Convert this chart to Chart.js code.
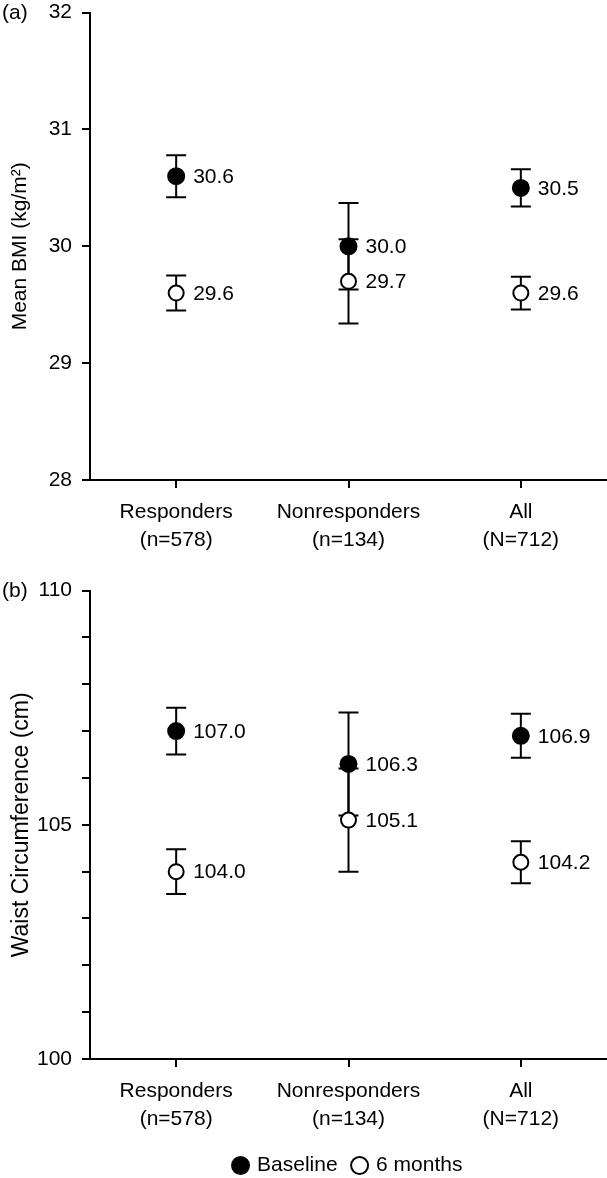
<!DOCTYPE html>
<html>
<head>
<meta charset="utf-8">
<script src="https://cdn.jsdelivr.net/npm/chart.js@4/dist/chart.umd.min.js"></script>
<style>
    html, body { margin: 0; padding: 0; background: #fff; overflow: hidden; }
    #wrap { position: relative; width: 607px; height: 1178px; overflow: hidden; }
    .panel { position: absolute; left: 0; width: 607px; }
    #panelA { top: -10px; height: 580px; }
    #panelB { top: 568px; height: 610px; }
</style>
</head>
<body>
<div id="wrap">
    <div class="panel" id="panelA"><canvas id="chartBmi"></canvas></div>
    <div class="panel" id="panelB"><canvas id="chartWaist"></canvas></div>
</div>
<script>
const grupos = [['Responders', '(n=578)'], ['Nonresponders', '(n=134)'], ['All', '(N=712)']];
const serieNombres = ['Baseline', '6 months'];

const bmiBaseline = [30.6, 30.0, 30.5];
const bmiBaselineErr = [0.18, 0.37, 0.16];
const bmiSeisMeses = [29.6, 29.7, 29.6];
const bmiSeisMesesErr = [0.15, 0.36, 0.14];
const bmiEje = { min: 28, max: 32, paso: 1 };
const bmiTicksConTexto = [28, 29, 30, 31, 32];

const cinturaBaseline = [107.0, 106.3, 106.9];
const cinturaBaselineErr = [0.5, 1.1, 0.47];
const cinturaSeisMeses = [104.0, 105.1, 104.2];
const cinturaSeisMesesErr = [0.48, 1.1, 0.45];
const cinturaEje = { min: 100, max: 110, paso: 1 };
const cinturaTicksConTexto = [100, 105, 110];

const FUENTE = '"Liberation Sans", Arial, Helvetica, sans-serif';
Chart.defaults.font.family = FUENTE;
Chart.defaults.color = '#000';

// barras de error, debajo de los marcadores
const errorBarPlugin = {
    id: 'errorBars',
    beforeDatasetsDraw(chart) {
        const ctx = chart.ctx;
        const y = chart.scales.y;
        chart.data.datasets.forEach((ds, i) => {
            const meta = chart.getDatasetMeta(i);
            meta.data.forEach((pt, j) => {
                const v = ds.data[j];
                const e = ds.errores[j];
                const yHi = y.getPixelForValue(v + e);
                const yLo = y.getPixelForValue(v - e);
                ctx.save();
                ctx.strokeStyle = '#000';
                ctx.lineWidth = 2;
                ctx.beginPath();
                ctx.moveTo(pt.x, yHi); ctx.lineTo(pt.x, yLo);
                ctx.moveTo(pt.x - 10, yHi); ctx.lineTo(pt.x + 10, yHi);
                ctx.moveTo(pt.x - 10, yLo); ctx.lineTo(pt.x + 10, yLo);
                ctx.stroke();
                ctx.restore();
            });
        });
    }
};

// etiquetas de valor a la derecha de cada punto
const etiquetasPlugin = {
    id: 'etiquetasValor',
    afterDatasetsDraw(chart) {
        const ctx = chart.ctx;
        ctx.save();
        ctx.font = '21px ' + FUENTE;
        ctx.fillStyle = '#000';
        ctx.textAlign = 'left';
        ctx.textBaseline = 'middle';
        chart.data.datasets.forEach((ds, i) => {
            chart.getDatasetMeta(i).data.forEach((pt, j) => {
                ctx.fillText(ds.data[j].toFixed(1), pt.x + 17, pt.y + 1);
            });
        });
        ctx.restore();
    }
};

const panelLetraPlugin = {
    id: 'panelLetra',
    afterDraw(chart, args, opts) {
        const ctx = chart.ctx;
        ctx.save();
        ctx.font = '21px ' + FUENTE;
        ctx.fillStyle = '#000';
        ctx.textAlign = 'left';
        ctx.textBaseline = 'middle';
        ctx.fillText(opts.texto, 2, chart.chartArea.top + 1);
        ctx.restore();
    }
};

function crearPanel(canvasId, cfg) {
    const ctx = document.getElementById(canvasId).getContext('2d');
    return new Chart(ctx, {
        type: 'line',
        data: {
            labels: grupos,
            datasets: [
                {
                    label: serieNombres[0],
                    data: cfg.baseline,
                    errores: cfg.baselineErr,
                    showLine: false,
                    pointStyle: 'circle',
                    pointRadius: 8,
                    pointBorderWidth: 2,
                    pointBackgroundColor: '#000',
                    pointBorderColor: '#000',
                    backgroundColor: '#000',
                    borderColor: '#000',
                    borderWidth: 2
                },
                {
                    label: serieNombres[1],
                    data: cfg.seisMeses,
                    errores: cfg.seisMesesErr,
                    showLine: false,
                    pointStyle: 'circle',
                    pointRadius: 7.5,
                    pointBorderWidth: 2,
                    pointBackgroundColor: '#fff',
                    pointBorderColor: '#000',
                    backgroundColor: '#fff',
                    borderColor: '#000',
                    borderWidth: 2
                }
            ]
        },
        options: {
            responsive: true,
            maintainAspectRatio: false,
            animation: false,
            events: [],
            layout: { autoPadding: false, padding: cfg.padding },
            plugins: {
                legend: {
                    display: cfg.leyenda,
                    position: 'bottom',
                    fullSize: false,
                    labels: {
                        usePointStyle: true,
                        boxWidth: 12,
                        boxHeight: 12,
                        padding: 16,
                        color: '#000',
                        font: { size: 21 }
                    }
                },
                tooltip: { enabled: false },
                panelLetra: { texto: cfg.letra }
            },
            scales: {
                x: {
                    type: 'category',
                    offset: true,
                    afterFit: (s) => { s.height = cfg.altoX; },
                    grid: {
                        offset: false,
                        drawOnChartArea: false,
                        drawTicks: true,
                        tickLength: 8,
                        tickWidth: 2,
                        lineWidth: 2,
                        color: '#000'
                    },
                    border: { display: true, color: '#000', width: 2 },
                    ticks: {
                        color: '#000',
                        padding: 10,
                        maxRotation: 0,
                        autoSkip: false,
                        font: { size: 21, lineHeight: 1.333 }
                    }
                },
                y: {
                    min: cfg.eje.min,
                    max: cfg.eje.max,
                    afterFit: (s) => { s.width = 90; },
                    grid: {
                        drawOnChartArea: false,
                        drawTicks: true,
                        tickLength: 8,
                        tickWidth: 2,
                        lineWidth: 2,
                        color: '#000'
                    },
                    border: { display: true, color: '#000', width: 2 },
                    ticks: {
                        stepSize: cfg.eje.paso,
                        color: '#000',
                        padding: 10,
                        font: { size: 21 },
                        callback: (v) => cfg.ticksTexto.includes(v) ? String(v) : ''
                    },
                    title: {
                        display: true,
                        text: cfg.titulo,
                        color: '#000',
                        padding: { top: 8, bottom: 0 },
                        font: { size: cfg.tituloSize }
                    }
                }
            }
        },
        plugins: [errorBarPlugin, etiquetasPlugin, panelLetraPlugin]
    });
}

crearPanel('chartBmi', {
    baseline: bmiBaseline,
    baselineErr: bmiBaselineErr,
    seisMeses: bmiSeisMeses,
    seisMesesErr: bmiSeisMesesErr,
    eje: bmiEje,
    ticksTexto: bmiTicksConTexto,
    titulo: 'Mean BMI (kg/m²)',
    tituloSize: 21,
    letra: '(a)',
    leyenda: false,
    altoX: 90,
    padding: { top: 0, right: 0, bottom: 0, left: 0 }
});

crearPanel('chartWaist', {
    baseline: cinturaBaseline,
    baselineErr: cinturaBaselineErr,
    seisMeses: cinturaSeisMeses,
    seisMesesErr: cinturaSeisMesesErr,
    eje: cinturaEje,
    ticksTexto: cinturaTicksConTexto,
    titulo: 'Waist Circumference (cm)',
    tituloSize: 23,
    letra: '(b)',
    leyenda: true,
    altoX: 80,
    padding: { top: 0, right: 0, bottom: -8, left: 0 }
});
</script>
</body>
</html>
